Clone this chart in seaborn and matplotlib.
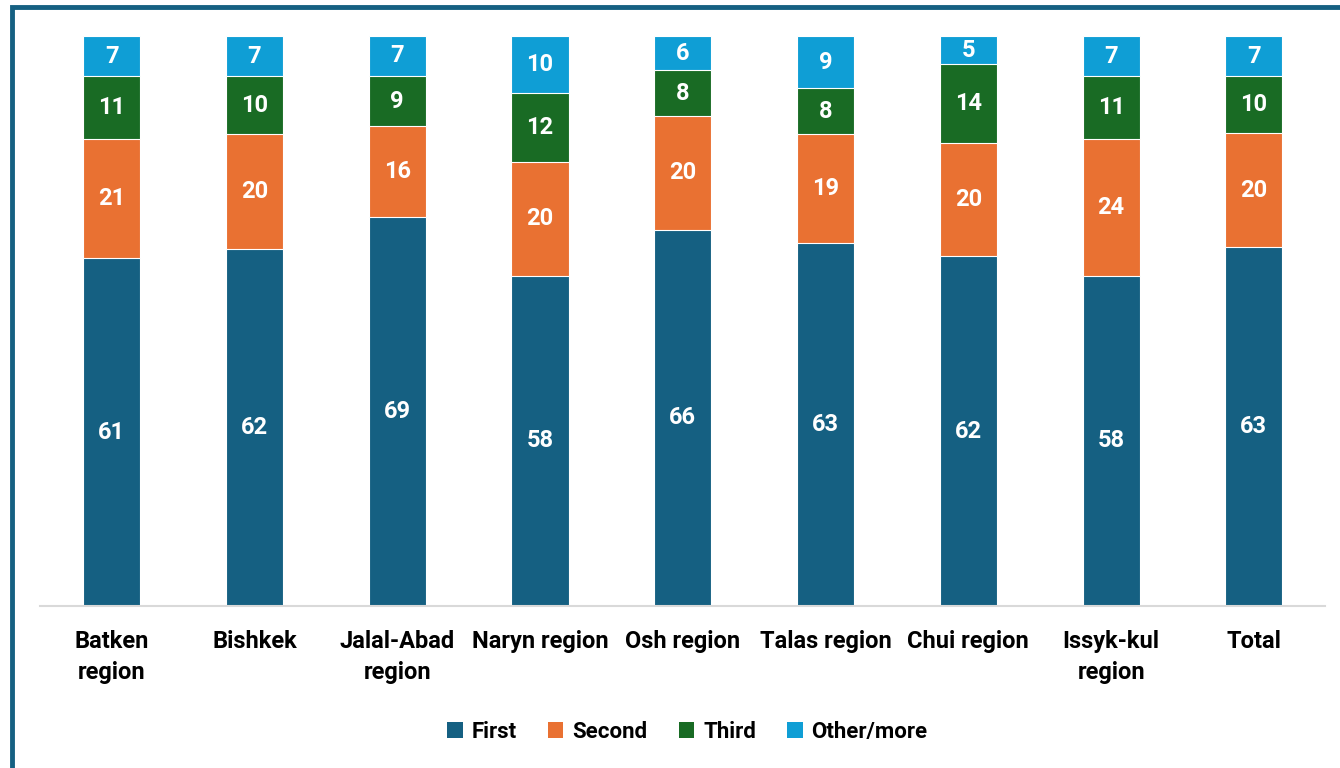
import matplotlib
matplotlib.use("Agg")
import matplotlib.pyplot as plt
import seaborn as sns
import pandas as pd
import numpy as np
from matplotlib.patches import Rectangle, Patch

categories = ["Batken\nregion", "Bishkek", "Jalal-Abad\nregion", "Naryn region", "Osh region",
              "Talas region", "Chui region", "Issyk-kul\nregion", "Total"]
first = [61, 62, 69, 58, 66, 63, 62, 58, 63]
second = [21, 20, 16, 20, 20, 19, 20, 24, 20]
third = [11, 10, 9, 12, 8, 8, 14, 11, 10]
other = [7, 7, 7, 10, 6, 9, 5, 7, 7]
series_names = ["First", "Second", "Third", "Other/more"]
colors = ["#156082", "#E97132", "#196B24", "#0F9ED5"]

sns.set_theme(style="white")
plt.rcParams['font.family'] = ['Roboto', 'DejaVu Sans']

series = [first, second, third, other]
vals = np.array(series, dtype=float)
# 100% stacked: normalise each column
pct = vals / vals.sum(axis=0) * 100
cum = np.cumsum(pct, axis=0)

fig = plt.figure(figsize=(13.4, 7.68), dpi=100)
ax = fig.add_axes([0.030, 0.2109, 0.959, 0.742])

# draw cumulative bars from tallest to shortest
for i in range(len(series) - 1, -1, -1):
    df = pd.DataFrame({"cat": categories, "val": cum[i]})
    sns.barplot(data=df, x="cat", y="val", order=categories, color=colors[i],
                saturation=1, width=0.4, edgecolor="white", linewidth=0.8, ax=ax)

# segment labels
for i in range(len(series)):
    for j, c in enumerate(categories):
        mid = cum[i][j] - pct[i][j] / 2
        ax.text(j, mid, f"{int(vals[i][j])}", ha="center", va="center",
                color="white", fontsize=17, fontweight="bold")

ax.set_xlim(-0.5, len(categories) - 0.5)
ax.set_ylim(0, 100)
ax.set_xlabel("")
ax.set_ylabel("")
ax.set_yticks([])
for s in ["top", "right", "left"]:
    ax.spines[s].set_visible(False)
ax.spines["bottom"].set_color("#D9D9D9")
ax.spines["bottom"].set_linewidth(1.5)
ax.tick_params(axis="x", length=0, pad=17)
ax.set_xticks(range(len(categories)))
ax.set_xticklabels(categories, fontsize=17, fontweight="bold", color="black", linespacing=1.45, va="top")

handles = [Patch(facecolor=c, edgecolor="none") for c in colors]
leg = fig.legend(handles, series_names, loc="center", bbox_to_anchor=(0.513, 0.047), ncol=4,
                 frameon=False, prop={"size": 16, "weight": "bold"}, handlelength=0.7, handleheight=0.7,
                 handletextpad=0.4, columnspacing=1.4)
for t in leg.get_texts():
    t.set_color("black")

# figure frame
fig.patches.append(Rectangle((12 / 1340, -0.05), 1.2, (768 - 7) / 768 + 0.05, transform=fig.transFigure,
                             fill=False, edgecolor="#156082", linewidth=3.5, zorder=10))

fig.savefig("out.png", dpi=100)
